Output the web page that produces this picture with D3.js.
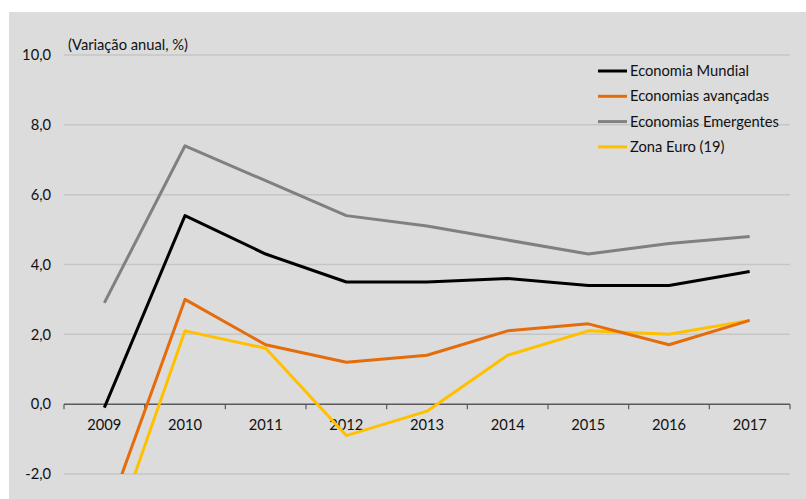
<!DOCTYPE html>
<html>
<head>
<meta charset="utf-8">
<script src="https://cdn.jsdelivr.net/npm/d3@7"></script>
<style>
  html, body { margin: 0; padding: 0; background: #ffffff; }
  svg { display: block; font-family: Lato, "Liberation Sans", Arial, sans-serif; }
</style>
</head>
<body>
<svg id="chart" width="806" height="499"></svg>
<script>
// Annual GDP growth, %
const years = ["2009", "2010", "2011", "2012", "2013", "2014", "2015", "2016", "2017"];
const mundial     = [-0.1, 5.4, 4.3, 3.5, 3.5, 3.6, 3.4, 3.4, 3.8];
const avancadas   = [-3.4, 3.0, 1.7, 1.2, 1.4, 2.1, 2.3, 1.7, 2.4];
const emergentes  = [2.9, 7.4, 6.4, 5.4, 5.1, 4.7, 4.3, 4.6, 4.8];
const zonaEuro    = [-4.5, 2.1, 1.6, -0.9, -0.2, 1.4, 2.1, 2.0, 2.4];
const yTicks = [-2, 0, 2, 4, 6, 8, 10];
const unitLabel = "(Variação anual, %)";

const series = [
  { name: "Economia Mundial",      values: mundial,    color: "#000000" },
  { name: "Economias avançadas",   values: avancadas,  color: "#e46c0a" },
  { name: "Economias Emergentes",  values: emergentes, color: "#808080" },
  { name: "Zona Euro (19)",        values: zonaEuro,   color: "#ffc000" }
];

const FONT = "Lato, 'Liberation Sans', Arial, sans-serif";
const FS = 14.7;
const TXT = "#111111";

const svg = d3.select("#chart");
const W = 806, H = 499;
const plot = { left: 64, right: 790, top: 55, bottom: 474 };

// grey chart panel
svg.append("rect")
  .attr("x", 9).attr("y", 12)
  .attr("width", W - 9).attr("height", H - 12)
  .attr("fill", "#dcdcdc");

const x = d3.scaleBand().domain(years).range([plot.left, plot.right]).padding(0);
const y = d3.scaleLinear().domain([-2, 10]).range([plot.bottom, plot.top]);

const fmt = v => d3.format(".1f")(v).replace(".", ",").replace("−", "-");

// horizontal gridlines (zero line is drawn as the category axis)
svg.append("g")
  .selectAll("line")
  .data(yTicks.filter(v => v !== 0))
  .join("line")
  .attr("x1", plot.left).attr("x2", plot.right)
  .attr("y1", d => y(d)).attr("y2", d => y(d))
  .attr("stroke", "#c6c6c6")
  .attr("stroke-width", 1.5);

// value axis labels
const yAxis = d3.axisLeft(y).tickValues(yTicks).tickFormat(fmt).tickSize(0).tickPadding(0);
const gy = svg.append("g")
  .attr("transform", `translate(${plot.left - 13},0)`)
  .call(yAxis);
gy.select(".domain").remove();
gy.selectAll("text")
  .attr("font-family", FONT)
  .attr("font-size", FS)
  .attr("fill", TXT);

// category axis on the zero line, ticks between categories
const gx = svg.append("g").attr("transform", `translate(0,${y(0)})`);
gx.append("line")
  .attr("x1", plot.left).attr("x2", plot.right)
  .attr("y1", 0).attr("y2", 0)
  .attr("stroke", "#595959").attr("stroke-width", 1.5);
const boundaries = years.map(d => x(d)).concat([x(years[years.length - 1]) + x.bandwidth()]);
gx.selectAll("line.tick")
  .data(boundaries)
  .join("line")
  .attr("class", "tick")
  .attr("x1", d => d).attr("x2", d => d)
  .attr("y1", 0).attr("y2", 5)
  .attr("stroke", "#595959").attr("stroke-width", 1.2);
gx.selectAll("text")
  .data(years)
  .join("text")
  .attr("x", d => x(d) + x.bandwidth() / 2)
  .attr("y", 26)
  .attr("text-anchor", "middle")
  .attr("font-family", FONT)
  .attr("font-size", FS)
  .attr("fill", TXT)
  .text(d => d);

// unit label
svg.append("text")
  .attr("x", 68).attr("y", 50)
  .attr("font-family", FONT)
  .attr("font-size", FS)
  .attr("fill", TXT)
  .text(unitLabel);

// clip series to the plot area
svg.append("clipPath").attr("id", "plotClip")
  .append("rect")
  .attr("x", plot.left).attr("y", plot.top)
  .attr("width", plot.right - plot.left)
  .attr("height", plot.bottom - plot.top);

const line = d3.line()
  .x((d, i) => x(years[i]) + x.bandwidth() / 2)
  .y(d => y(d));

svg.append("g")
  .attr("clip-path", "url(#plotClip)")
  .selectAll("path")
  .data(series.slice().reverse())
  .join("path")
  .attr("d", d => line(d.values))
  .attr("fill", "none")
  .attr("stroke", d => d.color)
  .attr("stroke-width", 3)
  .attr("stroke-linejoin", "round");

// legend
const legend = svg.append("g").attr("transform", "translate(598,71)");
const item = legend.selectAll("g")
  .data(series)
  .join("g")
  .attr("transform", (d, i) => `translate(0,${i * 25.3})`);
item.append("line")
  .attr("x1", 0).attr("x2", 29)
  .attr("y1", 0).attr("y2", 0)
  .attr("stroke", d => d.color)
  .attr("stroke-width", 3);
item.append("text")
  .attr("x", 32).attr("y", 0)
  .attr("dy", "0.35em")
  .attr("font-family", FONT)
  .attr("font-size", FS)
  .attr("fill", TXT)
  .text(d => d.name);
</script>
</body>
</html>
